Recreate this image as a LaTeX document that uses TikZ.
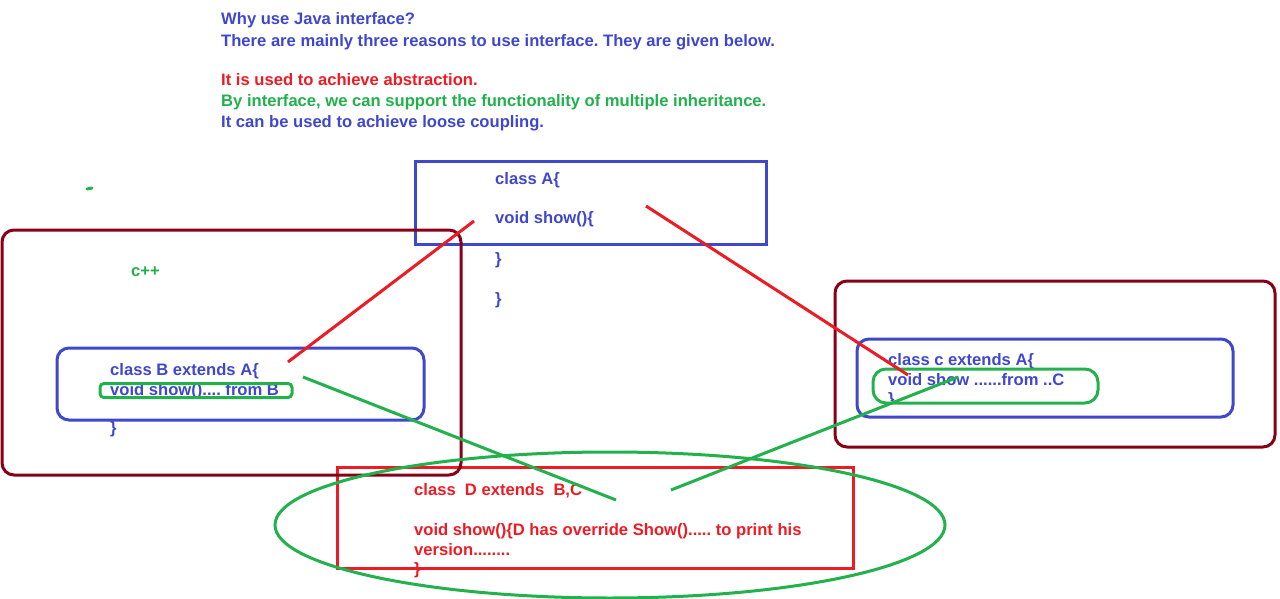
\documentclass[tikz,border=0pt]{standalone}
\usepackage{fontspec}
\setmainfont{Liberation Sans}
\usetikzlibrary{shapes.geometric}
\definecolor{pblue}{RGB}{63,72,204}
\definecolor{pred}{RGB}{237,28,36}
\definecolor{pgreen}{RGB}{34,177,76}
\definecolor{pdark}{RGB}{136,0,21}
\frenchspacing
\tikzset{
  txt/.style={anchor=base west, inner sep=0pt, font=\fontsize{16.6}{20}\selectfont\bfseries\frenchspacing},
  pen/.style={line width=3pt},
  box/.style={draw, pen, inner sep=0pt, outer sep=0pt},
}
\begin{document}
\begin{tikzpicture}[x=1pt,y=-1pt]
\useasboundingbox (0,0) rectangle (1280,599);
\fill[white] (0,0) rectangle (1280,599);
% heading text
\node[txt, pblue] (h1) at (221,25) {Why use Java interface?};
\node[txt, pblue] (h2) at (221,47) {There are mainly three reasons to use interface. They are given below.};
\node[txt, pred] (h3) at (221,86) {It is used to achieve abstraction.};
\node[txt, pgreen] (h4) at (221,107) {By interface, we can support the functionality of multiple inheritance.};
\node[txt, pblue] (h5) at (221,128) {It can be used to achieve loose coupling.};
% green dash
\coordinate (d1) at (87,189); \coordinate (d2) at (92,188);
\draw[pen, pgreen, line cap=round] (d1) -- (d2);
% boxes
\node[box, pblue, minimum width=351pt, minimum height=83pt] (boxA) at (590.5,203) {};
\node[box, pblue, rounded corners=12pt, minimum width=367pt, minimum height=72pt] (boxB) at (240.5,384) {};
\node[box, pblue, rounded corners=12pt, minimum width=376pt, minimum height=78pt] (boxC) at (1045,378) {};
\node[box, pred, minimum width=516pt, minimum height=101pt] (boxD) at (595,517.5) {};
\node[box, pdark, rounded corners=12pt, minimum width=459pt, minimum height=245pt] (outB) at (231.5,352.5) {};
\node[box, pdark, rounded corners=12pt, minimum width=440pt, minimum height=166pt] (outC) at (1055,364) {};
% texts A
\node[txt, pblue] (a1) at (495,184) {class A\{};
\node[txt, pblue] (a2) at (495,223) {void show()\{};
\node[txt, pblue] (a3) at (495,264) {\}};
\node[txt, pblue] (a4) at (495,304) {\}};
% c++
\node[txt, pgreen] (cpp) at (131,276) {c++};
% texts B
\node[txt, pblue] (b1) at (110,375) {class B extends A\{};
\node[txt, pblue] (b2) at (110,395) {void show().... from B};
\node[txt, pblue] (b3) at (110,433) {\}};
% texts C
\node[txt, pblue] (c1) at (888,365) {class c extends A\{};
\node[txt, pblue] (c2) at (888,385) {void show ......from ..C};
\begin{scope}
\clip (880,380) rectangle (905,400);
\node[txt, pblue] (c3) at (888,404) {\}};
\end{scope}
% texts D
\node[txt, pred] (dd1) at (414,495) {class\ \ D extends\ \ B,C};
\node[txt, pred] (dd2) at (414,535) {void show()\{D has override Show()..... to print his};
\node[txt, pred] (dd3) at (414,555) {version........};
\node[txt, pred] (dd4) at (414,574) {\}};
% green highlight boxes
\node[box, pgreen, rounded corners=4pt, minimum width=192pt, minimum height=14pt] (gB) at (196,390.5) {};
\node[box, pgreen, rounded corners=13pt, minimum width=225pt, minimum height=34pt] (gC) at (985.5,386) {};
% red connectors
\coordinate (ra1) at (474,221); \coordinate (ra2) at (288,362);
\coordinate (rc1) at (646,206); \coordinate (rc2) at (908,375);
\draw[pen, pred] (ra1) -- (ra2);
\draw[pen, pred] (rc1) -- (rc2);
% green connectors
\coordinate (gb1) at (303,377); \coordinate (gb2) at (616,500);
\coordinate (gc1) at (958,377); \coordinate (gc2) at (671,490);
\draw[pen, pgreen] (gb1) -- (gb2);
\draw[pen, pgreen] (gc1) -- (gc2);
% green ellipse
\node[box, pgreen, ellipse, minimum width=670pt, minimum height=146pt] (ell) at (610,525) {};
\end{tikzpicture}
\end{document}
